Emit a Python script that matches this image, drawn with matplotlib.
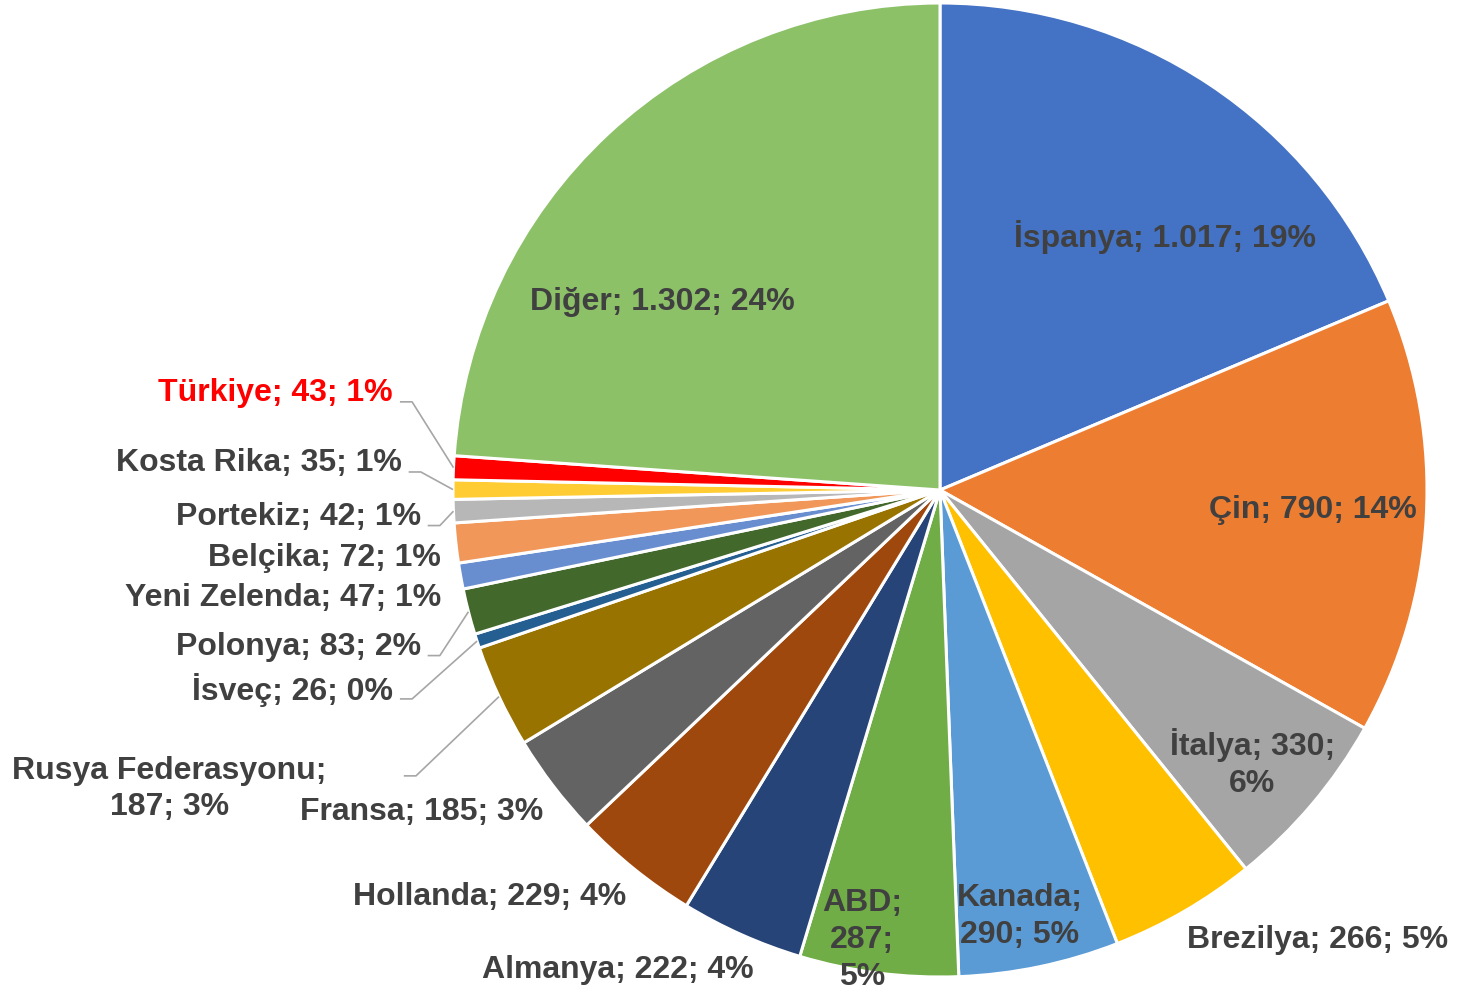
import matplotlib.pyplot as plt
import numpy as np

plt.rcParams['font.family'] = ['Liberation Sans', 'DejaVu Sans']

countries = ['İspanya', 'Çin', 'İtalya', 'Brezilya', 'Kanada', 'ABD', 'Almanya',
             'Hollanda', 'Fransa', 'Rusya Federasyonu', 'İsveç', 'Polonya',
             'Yeni Zelenda', 'Belçika', 'Portekiz', 'Kosta Rika', 'Türkiye', 'Diğer']
values = [1017, 790, 330, 266, 290, 287, 222, 229, 185, 187, 26, 83, 47, 72, 42, 35, 43, 1302]
value_text = ['1.017', '790', '330', '266', '290', '287', '222', '229', '185', '187',
              '26', '83', '47', '72', '42', '35', '43', '1.302']
colors = ['#4472C4', '#ED7D31', '#A5A5A5', '#FFC000', '#5B9BD5', '#70AD47', '#264478',
          '#9E480E', '#636363', '#997300', '#255E91', '#43682B', '#698ED0', '#F1975A',
          '#B7B7B7', '#FFCD33', '#FF0000', '#8CC168']

# label layout: position, alignment, line breaks after ';' parts
label_pos = [(0.462, 0.520), (0.766, -0.041), (0.641, -0.561), (0.776, -0.924),
             (0.164, -0.875), (-0.160, -0.924), (-0.661, -0.986), (-0.924, -0.836),
             (-1.064, -0.661), (-1.583, -0.614), (-1.123, -0.411), (-1.066, -0.322),
             (-1.025, -0.222), (-1.025, -0.140), (-1.066, -0.055), (-1.105, 0.055),
             (-1.123, 0.199), (-0.571, 0.386)]
label_ha = ['center'] * 10 + ['right'] * 7 + ['center']
label_breaks = {2: [1], 4: [0], 5: [0, 1], 9: [0]}
leader_start = {9: (-1.101, -0.587), 10: (-1.109, -0.429), 11: (-1.052, -0.340),
                14: (-1.052, -0.073), 15: (-1.091, 0.037), 16: (-1.109, 0.181)}

fig = plt.figure(figsize=(14.6, 9.92), dpi=100)
ax = fig.add_axes([0, 0, 1, 1])

total = sum(values)
wedges, _ = ax.pie(values, colors=colors, startangle=90, counterclock=False,
                   wedgeprops=dict(edgecolor='white', linewidth=2.2))

for i, w in enumerate(wedges):
    pct = round(100 * values[i] / total)
    parts = [countries[i], value_text[i], f'{pct}%']
    txt = ''
    for k, p in enumerate(parts):
        txt += p
        if k < len(parts) - 1:
            txt += ';' + ('\n' if k in label_breaks.get(i, []) else ' ')
    color = '#FF0000' if countries[i] == 'Türkiye' else '#404040'
    ax.text(label_pos[i][0], label_pos[i][1], txt, ha=label_ha[i], va='center',
            fontsize=23, fontweight='bold', color=color, linespacing=1.3)
    if i in leader_start:
        mid = np.deg2rad((w.theta1 + w.theta2) / 2)
        sx, sy = leader_start[i]
        ax.plot([sx, sx + 0.025, np.cos(mid)], [sy, sy, np.sin(mid)],
                color='#A6A6A6', lw=1.2, solid_capstyle='butt')

ax.set_xlim(-940 / 487, 520 / 487)
ax.set_ylim(-502 / 487, 490 / 487)
ax.set_aspect('equal')
ax.axis('off')

fig.savefig('out.png', dpi=100)
